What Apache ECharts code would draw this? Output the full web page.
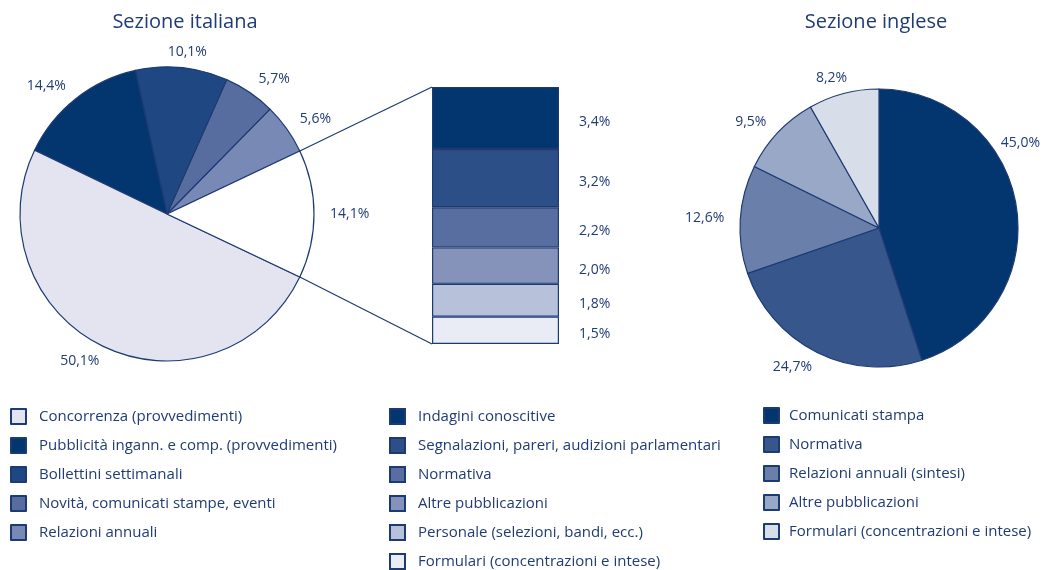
<!DOCTYPE html>
<html>
<head>
<meta charset="utf-8">
<script src="https://cdn.jsdelivr.net/npm/echarts@6/dist/echarts.min.js"></script>
<style>
  html, body { margin: 0; padding: 0; background: #fff; }
  #main { width: 1042px; height: 570px; }
</style>
</head>
<body>
<div id="main"></div>
<script>
// dati
const itNames = ['Concorrenza (provvedimenti)', 'Pubblicità ingann. e comp. (provvedimenti)', 'Bollettini settimanali', 'Novità, comunicati stampe, eventi', 'Relazioni annuali'];
const itValues = [50.1, 14.4, 10.1, 5.7, 5.6];
const itOtherValue = 14.1;
const detailNames = ['Indagini conoscitive', 'Segnalazioni, pareri, audizioni parlamentari', 'Normativa', 'Altre pubblicazioni', 'Personale (selezioni, bandi, ecc.)', 'Formulari (concentrazioni e intese)'];
const detailValues = [3.4, 3.2, 2.2, 2.0, 1.8, 1.5];
const enNames = ['Comunicati stampa', 'Normativa', 'Relazioni annuali (sintesi)', 'Altre pubblicazioni', 'Formulari (concentrazioni e intese)'];
const enValues = [45.0, 24.7, 12.6, 9.5, 8.2];

// stile
const itColors = ['#e3e4f0', '#03356f', '#1f4882', '#586d9f', '#7789b4'];
const detailColors = ['#03356f', '#2d4f87', '#596ea0', '#8593ba', '#b8c1da', '#e9ecf4'];
const enColors = ['#03356f', '#37568b', '#6b7fab', '#9aa8c8', '#d8dee9'];
const TXT = '#1f3c74';
const LINE = '#1d3b73';
const FONT = '"Open Sans", "Noto Sans", sans-serif';

// layout
const pieIt = { cx: 167, cy: 214, r: 147 };
const pieEn = { cx: 879, cy: 228, r: 139 };
const barBox = { left: 432, top: 87, width: 127, height: 257 };
// l'etichetta del 45% sta più in alto, come nell'originale
const enLabelOverride = { 0: { angle: 31, dist: 165 } };

const pct = v => v.toFixed(1).replace('.', ',') + '%';
const tag = (n, k) => n + '#' + k;
const untag = n => n.split('#')[0];
const rad = a => a * Math.PI / 180;

const chart = echarts.init(document.getElementById('main'), null, { renderer: 'canvas' });

const halfOther = itOtherValue / (itValues.reduce((a, b) => a + b, 0) + itOtherValue) * 180;

const itData = itNames.map((n, i) => ({
  name: tag(n, 'it'), value: itValues[i], itemStyle: { color: itColors[i] }
})).reverse();
itData.push({ name: 'Altro', value: itOtherValue, itemStyle: { color: '#ffffff' } });

const enData = enNames.map((n, i) => ({
  name: tag(n, 'en'), value: enValues[i], itemStyle: { color: enColors[i] }
}));

// etichette attorno alla torta, lungo l'angolo medio della fetta
function pieLabelLayout(pie, data, startAngle, clockwise, override) {
  const vals = data.map(d => d.value);
  const total = vals.reduce((a, b) => a + b, 0);
  return params => {
    const i = params.dataIndex;
    let acc = 0;
    for (let j = 0; j < i; j++) acc += vals[j];
    const mid = (acc + vals[i] / 2) / total * 360;
    const ang = startAngle + (clockwise ? -mid : mid);
    const w = params.labelRect.width;
    if (override && override[i]) {
      const o = override[i];
      return { x: pie.cx + o.dist * Math.cos(rad(o.angle)), y: pie.cy - o.dist * Math.sin(rad(o.angle)),
        align: 'center', verticalAlign: 'middle' };
    }
    const c = Math.cos(rad(ang)), s = Math.sin(rad(ang));
    const d = pie.r + 16;
    return {
      x: pie.cx + d * c + Math.sign(c) * (w / 2) * Math.min(1, 2 * Math.abs(c)),
      y: pie.cy - d * s,
      align: 'center', verticalAlign: 'middle'
    };
  };
}

const pieLabel = {
  show: true, position: 'outside', color: TXT, fontFamily: FONT, fontSize: 14,
  formatter: p => pct(p.value)
};

const barSeries = detailNames.map((n, i) => ({
  type: 'bar', name: tag(n, 'det'), stack: 'det', barWidth: '100%',
  data: [detailValues[i]],
  itemStyle: { color: detailColors[i], borderColor: LINE, borderWidth: 1.2 },
  label: { show: true, position: 'right', distance: 20, offset: [0, 4], color: TXT, fontFamily: FONT, fontSize: 14,
    formatter: p => pct(p.value) }
})).reverse();

const legendBase = {
  orient: 'vertical', icon: 'rect', itemWidth: 15, itemHeight: 15, itemGap: 12,
  padding: 0, bottom: 0,
  selectedMode: false,
  formatter: untag,
  textStyle: { color: TXT, fontFamily: FONT, fontSize: 15, lineHeight: 15, padding: [0, 0, 0, 8] }
};

// linee di raccordo tra la fetta bianca e la barra
const upStart = [pieIt.cx + pieIt.r * Math.cos(rad(halfOther)), pieIt.cy - pieIt.r * Math.sin(rad(halfOther))];
const downStart = [pieIt.cx + pieIt.r * Math.cos(rad(halfOther)), pieIt.cy + pieIt.r * Math.sin(rad(halfOther))];

chart.setOption({
  animation: false,
  backgroundColor: '#ffffff',
  title: [
    { text: 'Sezione italiana', left: 180, top: 7, textAlign: 'center',
      textStyle: { color: TXT, fontFamily: FONT, fontSize: 20, fontWeight: 'normal' } },
    { text: 'Sezione inglese', left: 871, top: 7, textAlign: 'center',
      textStyle: { color: TXT, fontFamily: FONT, fontSize: 20, fontWeight: 'normal' } }
  ],
  legend: [
    Object.assign({}, legendBase, { left: 10, top: 408, data: itNames.map(n => tag(n, 'it')) }),
    Object.assign({}, legendBase, { left: 389, top: 408, data: detailNames.map(n => tag(n, 'det')) }),
    Object.assign({}, legendBase, { left: 763, top: 407, data: enNames.map(n => tag(n, 'en')),
      textStyle: Object.assign({}, legendBase.textStyle, { padding: [0, 0, 0, 5] }) })
  ],
  grid: { left: barBox.left, top: barBox.top, width: barBox.width, height: barBox.height },
  xAxis: { type: 'category', data: ['dettaglio'], show: false },
  yAxis: { type: 'value', min: 0, max: itOtherValue, show: false },
  graphic: [
    { type: 'line', silent: true, z: 0,
      shape: { x1: upStart[0], y1: upStart[1], x2: barBox.left, y2: barBox.top },
      style: { stroke: LINE, lineWidth: 1.2 } },
    { type: 'line', silent: true, z: 0,
      shape: { x1: downStart[0], y1: downStart[1], x2: barBox.left, y2: barBox.top + barBox.height },
      style: { stroke: LINE, lineWidth: 1.2 } }
  ],
  series: [
    {
      type: 'pie', name: 'Sezione italiana',
      center: [pieIt.cx, pieIt.cy], radius: pieIt.r,
      clockwise: false, startAngle: halfOther,
      avoidLabelOverlap: false,
      itemStyle: { borderColor: LINE, borderWidth: 1.2 },
      label: pieLabel,
      labelLine: { show: false },
      labelLayout: pieLabelLayout(pieIt, itData, halfOther, false),
      emphasis: { disabled: true },
      data: itData
    },
    {
      type: 'pie', name: 'Sezione inglese',
      center: [pieEn.cx, pieEn.cy], radius: pieEn.r,
      clockwise: true, startAngle: 90,
      avoidLabelOverlap: false,
      itemStyle: { borderColor: LINE, borderWidth: 1.2 },
      label: pieLabel,
      labelLine: { show: false },
      labelLayout: pieLabelLayout(pieEn, enData, 90, true, enLabelOverride),
      emphasis: { disabled: true },
      data: enData
    }
  ].concat(barSeries)
});
</script>
</body>
</html>
